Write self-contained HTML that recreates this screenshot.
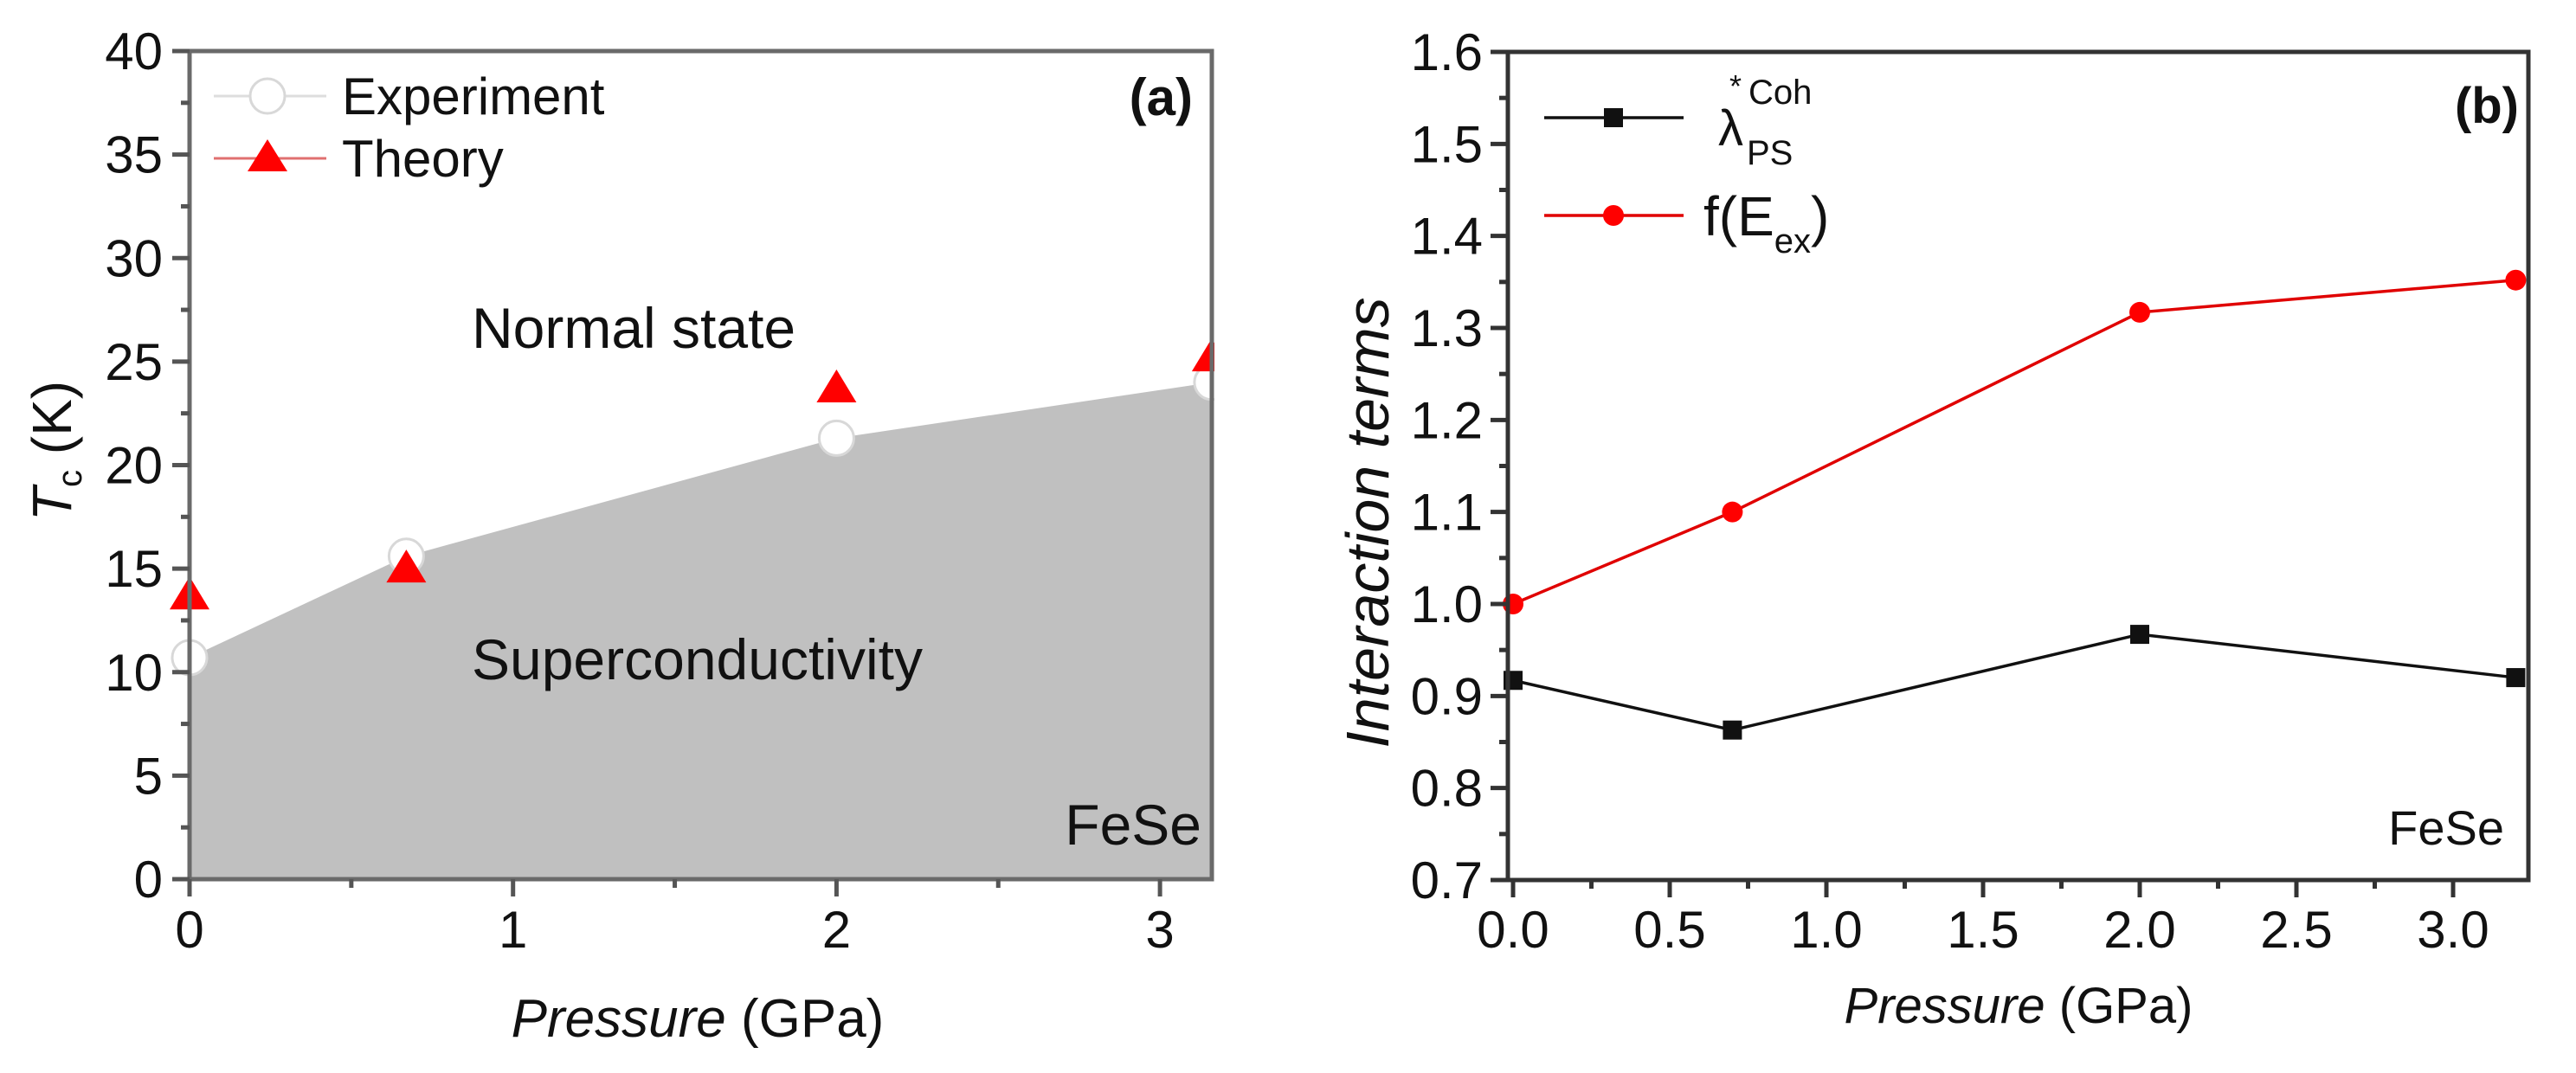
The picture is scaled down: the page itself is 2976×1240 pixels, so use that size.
<!DOCTYPE html>
<html><head><meta charset="utf-8"><style>
html,body{margin:0;padding:0;background:#fff;}
svg{display:block;font-family:"Liberation Sans",Arial,sans-serif;}
</style></head><body>
<svg id="chart" width="2976" height="1240" viewBox="0 0 2976 1240" xmlns="http://www.w3.org/2000/svg">
<g id="pa"></g>
<g id="pb"></g>
</svg>
<script>
// Panel (a) data
const aPressure = [0, 0.67, 2.0, 3.16];
const aExperiment = [10.7, 15.6, 21.3, 24.0];
const aTheoryP = [0, 0.67, 2.0, 3.16];
const aTheory = [13.7, 15.0, 23.7, 25.2];
const aXTicks = [0, 1, 2, 3];
const aYTicks = [0, 5, 10, 15, 20, 25, 30, 35, 40];
// Panel (b) data
const bPressure = [0, 0.7, 2.0, 3.2];
const bLambda = [0.917, 0.863, 0.967, 0.920];
const bF = [1.00, 1.10, 1.317, 1.352];
const bXTicks = ["0.0", "0.5", "1.0", "1.5", "2.0", "2.5", "3.0"];
const bYTicks = ["0.7", "0.8", "0.9", "1.0", "1.1", "1.2", "1.3", "1.4", "1.5", "1.6"];

const NS = "http://www.w3.org/2000/svg";
function mk(parent, tag, attrs, text) {
  const e = document.createElementNS(NS, tag);
  for (const k in attrs) e.setAttribute(k, attrs[k]);
  if (text !== undefined) e.textContent = text;
  parent.appendChild(e);
  return e;
}

// ---------- Panel A ----------
const pa = document.getElementById('pa');
const aL = 219, aR = 1400, aT = 59, aB = 1016;
const ax = p => aL + p * 373.7;
const ay = v => aB - (v - 0) / 40 * (aB - aT);

let pts = `${aL},${aB} `;
aPressure.forEach((p, i) => { pts += `${ax(p)},${ay(aExperiment[i])} `; });
pts += `${aR},${ay(aExperiment[aExperiment.length - 1])} ${aR},${aB}`;
const fill = mk(pa, 'polygon', { points: pts, fill: '#c0c0c0' });



aPressure.forEach((p, i) => {
  const c = mk(pa, 'circle', { cx: ax(p), cy: ay(aExperiment[i]), r: 20, fill: '#fff', stroke: '#d8d8d8', 'stroke-width': 3 });
  
  
});
aTheoryP.forEach((p, i) => {
  const x = ax(p), y = ay(aTheory[i]);
  const t = mk(pa, 'polygon', { points: `${x},${y - 22} ${x - 23},${y + 16} ${x + 23},${y + 16}`, fill: '#ff0000' });
  
  
});

mk(pa, 'rect', { x: aR + 3, y: 0, width: 300, height: 1040, fill: '#fff' });

const fa = mk(pa, 'rect', { x: aL, y: aT, width: aR - aL, height: aB - aT, fill: 'none', stroke: '#6a6a6a', 'stroke-width': 5 });



for (let v = 0; v <= 40; v += 2.5) {
  const major = v % 5 === 0;
  mk(pa, 'line', { x1: aL - (major ? 20 : 10), x2: aL, y1: ay(v), y2: ay(v), stroke: '#555', 'stroke-width': 5 });
}
aYTicks.forEach(v => {
  const t = mk(pa, 'text', { x: 188, y: ay(v) + 21, 'text-anchor': 'end', 'font-size': 60, fill: '#111' }, String(v));
  
  
});
for (let p = 0; p <= 3.01; p += 0.5) {
  const major = Math.abs(p - Math.round(p)) < 1e-6;
  mk(pa, 'line', { x1: ax(p), x2: ax(p), y1: aB, y2: aB + (major ? 20 : 10), stroke: '#555', 'stroke-width': 5 });
}
aXTicks.forEach(p => {
  const t = mk(pa, 'text', { x: ax(p), y: 1095, 'text-anchor': 'middle', 'font-size': 60, fill: '#111' }, String(p));
  
  
});
</script>
<script>
(function(){
const pa = document.getElementById('pa');
pa.insertAdjacentHTML('beforeend', `
<g>
 <line x1="247" y1="111" x2="377" y2="111" stroke="#ddd" stroke-width="3"/>
 <circle cx="309" cy="111" r="20" fill="#fff" stroke="#d8d8d8" stroke-width="3"/>
 <text x="395" y="132" font-size="60" fill="#111">Experiment</text>
 <line x1="247" y1="183" x2="377" y2="183" stroke="#e07070" stroke-width="3"/>
 <polygon points="309,161 286,198 332,198" fill="#f00"/>
 <text x="395" y="204" font-size="60" fill="#111">Theory</text>
</g>
<text x="1378" y="133" text-anchor="end" font-size="60" font-weight="bold" fill="#111">(a)</text>
<text x="545" y="402" font-size="66" fill="#111">Normal state</text>
<text x="545" y="785" font-size="66" fill="#111">Superconductivity</text>
<text x="1388" y="976" text-anchor="end" font-size="66" fill="#111">FeSe</text>
<text x="806" y="1198" text-anchor="middle" font-size="62" fill="#111"><tspan font-style="italic">Pressure</tspan> (GPa)</text>
<text transform="translate(82,521) rotate(-90)" text-anchor="middle" font-size="64" fill="#111"><tspan font-style="italic">T</tspan><tspan font-size="40" dy="12">c</tspan><tspan dy="-12"> (K)</tspan></text>
`);
})();
</script>
<script>
(function(){
const pb = document.getElementById('pb');
const bL = 1742, bR = 2921, bT = 60, bB = 1017;
const bx = p => 1748 + p * 362;
const by = v => bB - (v - 0.7) / 0.9 * (bB - bT);

let rp = bPressure.map((p, i) => `${bx(p)},${by(bF[i])}`).join(' ');
const rl = mk(pb, 'polyline', { points: rp, fill: 'none', stroke: '#e00000', 'stroke-width': 3.5 });


bPressure.forEach((p, i) => {
  const c = mk(pb, 'circle', { cx: bx(p), cy: by(bF[i]), r: 12, fill: '#f00' });
  
  
});
let kp = bPressure.map((p, i) => `${bx(p)},${by(bLambda[i])}`).join(' ');
const kl = mk(pb, 'polyline', { points: kp, fill: 'none', stroke: '#111', 'stroke-width': 3.5 });


bPressure.forEach((p, i) => {
  const s = mk(pb, 'rect', { x: bx(p) - 11, y: by(bLambda[i]) - 11, width: 22, height: 22, fill: '#111' });
  
  
});

const fb = mk(pb, 'rect', { x: bL, y: bT, width: bR - bL, height: bB - bT, fill: 'none', stroke: '#333', 'stroke-width': 5 });



for (let i = 0; i <= 18; i++) {
  const v = 0.7 + i * 0.05;
  const major = i % 2 === 0;
  mk(pb, 'line', { x1: bL - (major ? 20 : 10), x2: bL, y1: by(v), y2: by(v), stroke: '#333', 'stroke-width': 5 });
}
bYTicks.forEach(s => {
  const t = mk(pb, 'text', { x: 1713, y: by(parseFloat(s)) + 21, 'text-anchor': 'end', 'font-size': 60, fill: '#111' }, s);
  
  
});
for (let i = 0; i <= 12; i++) {
  const p = i * 0.25;
  const major = i % 2 === 0;
  mk(pb, 'line', { x1: bx(p), x2: bx(p), y1: bB, y2: bB + (major ? 20 : 10), stroke: '#333', 'stroke-width': 5 });
}
bXTicks.forEach(s => {
  const t = mk(pb, 'text', { x: bx(parseFloat(s)), y: 1095, 'text-anchor': 'middle', 'font-size': 60, fill: '#111' }, s);
  
  
});

pb.insertAdjacentHTML('beforeend', `
<g>
 <line x1="1784" y1="136" x2="1945" y2="136" stroke="#111" stroke-width="3.5"/>
 <rect x="1853" y="125" width="22" height="22" fill="#111"/>
 <text x="1998" y="112" font-size="36" fill="#111">*</text>
 <text x="1985" y="168" font-size="58" fill="#111">λ</text>
 <text x="2020" y="120" font-size="40" fill="#111">Coh</text>
 <text x="2018" y="190" font-size="40" fill="#111">PS</text>
 <line x1="1784" y1="249" x2="1945" y2="249" stroke="#e00000" stroke-width="3.5"/>
 <circle cx="1864" cy="249" r="12" fill="#f00"/>
 <text x="1968" y="272" font-size="64" fill="#111">f(E<tspan font-size="40" dy="20">ex</tspan><tspan dy="-20">)</tspan></text>
</g>
<text x="2910" y="142" text-anchor="end" font-size="58" font-weight="bold" fill="#111">(b)</text>
<text x="2893" y="976" text-anchor="end" font-size="56" fill="#111">FeSe</text>
<text x="2332" y="1182" text-anchor="middle" font-size="58" fill="#111"><tspan font-style="italic">Pressure</tspan> (GPa)</text>
<text transform="translate(1604,604) rotate(-90)" text-anchor="middle" font-size="70" font-style="italic" fill="#111">Interaction terms</text>
`);
})();
</script>
</body></html>
